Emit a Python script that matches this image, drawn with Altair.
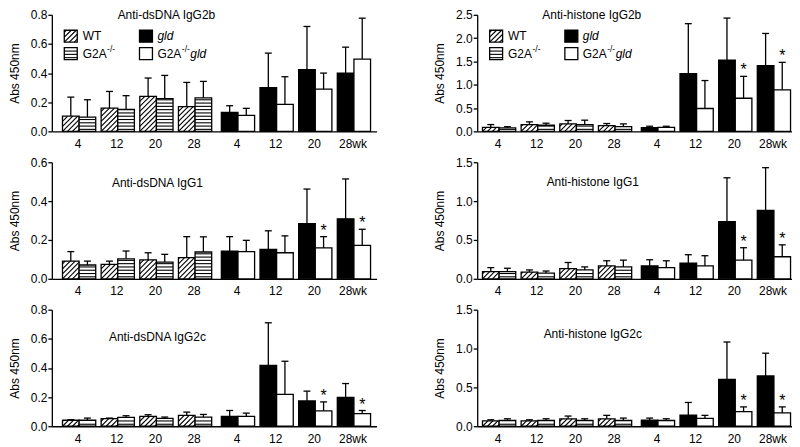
import altair as alt
import numpy as np
import pandas as pd

# ---------------- data ----------------
WEEKS = ["4", "12", "20", "28", "4", "12", "20", "28wk"]
KINDS = ["WT", "G2A"] * 4 + ["gld", "G2Agld"] * 4

dna_g2b_val = [0.105, 0.098, 0.16, 0.15, 0.24, 0.225, 0.17, 0.23, 0.13, 0.11, 0.30, 0.185, 0.423, 0.29, 0.40, 0.496]
dna_g2b_err = [0.235, 0.217, 0.274, 0.245, 0.366, 0.384, 0.336, 0.343, 0.176, 0.158, 0.537, 0.375, 0.72, 0.40, 0.578, 0.777]
his_g2b_val = [0.087, 0.073, 0.146, 0.131, 0.16, 0.146, 0.124, 0.10, 0.08, 0.087, 1.24, 0.49, 1.53, 0.71, 1.41, 0.89]
his_g2b_err = [0.146, 0.10, 0.204, 0.175, 0.233, 0.24, 0.168, 0.16, 0.11, 0.11, 2.31, 1.09, 2.43, 1.18, 2.10, 1.48]
dna_g1_val = [0.091, 0.071, 0.074, 0.103, 0.097, 0.086, 0.109, 0.138, 0.143, 0.14, 0.152, 0.134, 0.284, 0.159, 0.309, 0.172]
dna_g1_err = [0.14, 0.091, 0.091, 0.143, 0.134, 0.126, 0.217, 0.216, 0.217, 0.198, 0.247, 0.221, 0.462, 0.217, 0.514, 0.255]
his_g1_val = [0.092, 0.092, 0.087, 0.074, 0.131, 0.114, 0.166, 0.153, 0.166, 0.144, 0.20, 0.166, 0.735, 0.24, 0.88, 0.284]
his_g1_err = [0.144, 0.136, 0.114, 0.10, 0.21, 0.153, 0.232, 0.24, 0.245, 0.232, 0.31, 0.297, 1.30, 0.40, 1.43, 0.437]
dna_g2c_val = [0.041, 0.041, 0.052, 0.061, 0.068, 0.054, 0.074, 0.063, 0.068, 0.068, 0.417, 0.219, 0.174, 0.106, 0.198, 0.086]
dna_g2c_err = [0.045, 0.056, 0.056, 0.072, 0.079, 0.063, 0.097, 0.081, 0.108, 0.09, 0.71, 0.446, 0.241, 0.167, 0.293, 0.108]
his_g2c_val = [0.07, 0.074, 0.07, 0.074, 0.096, 0.074, 0.096, 0.074, 0.079, 0.074, 0.144, 0.10, 0.603, 0.188, 0.647, 0.171]
his_g2c_err = [0.083, 0.096, 0.083, 0.096, 0.131, 0.096, 0.14, 0.105, 0.105, 0.096, 0.306, 0.14, 1.084, 0.249, 0.94, 0.249]

STARS_NONE = []
STARS_LATE = [13, 15]   # G2A-/-gld at 20 and 28 wk

# ---------------- layout constants ----------------
FONT = "Liberation Sans"
STEP = 38.8        # px per group slot
BAR = 0.43         # bar width (slots)
EXTRA = 0.11       # extra gap between genotype blocks (slots)
CAP = 0.09         # half cap width (slots)
H = 117
COLS = {"L": dict(W=326, pad=10.7), "R": dict(W=316, pad=5.3)}
SW = 1.3


def hatch(kind, x0, yb, wpx, hpx, ppy):
    segs = []
    if kind == "WT":
        s = 5.0
        k0 = int(np.ceil((-hpx + 0.8) / s))
        k1 = int(np.floor((wpx - 0.8) / s))
        for k in range(k0, k1 + 1):
            c = k * s
            xa = max(0.0, c)
            xb = min(wpx, hpx + c)
            if xb - xa < 0.6:
                continue
            segs.append((x0 + xa / STEP, yb + (xa - c) / ppy, x0 + xb / STEP, yb + (xb - c) / ppy))
    elif kind == "G2A":
        s = 3.3
        yy = 2.0
        while yy < hpx - 0.7:
            segs.append((x0, yb + yy / ppy, x0 + wpx / STEP, yb + yy / ppy))
            yy += s
    return segs


def make_panel(title, ymax, ystep, vals, errs, stars, col, tpos, legend):
    W = COLS[col]["W"]
    xmin = -COLS[col]["pad"] / STEP
    xmax = xmin + W / STEP
    ppy = H / ymax
    xs = alt.Scale(domain=[xmin, xmax], nice=False, zero=False)
    ys = alt.Scale(domain=[0, ymax], nice=False, zero=True)
    yvals = [float(v) for v in np.round(np.arange(0, ymax + 1e-9, ystep), 3)]
    yaxis = alt.Axis(values=yvals, format=".1f", title="Abs 450nm", grid=False,
                     tickSize=4, labelPadding=1, titlePadding=9)
    xaxis = alt.Axis(title=None, grid=False, ticks=False, labels=False, domain=True)

    def X(f):
        return alt.X(f, type="quantitative", scale=xs, axis=xaxis)

    def Y(f):
        return alt.Y(f, type="quantitative", scale=ys, axis=yaxis)

    def px2x(px):
        return xmin + px / STEP

    def py2y(py):
        return ymax * (1 - py / H)

    rows = []
    for i, (v, e) in enumerate(zip(vals, errs)):
        g, m = divmod(i, 2)
        x0 = g + EXTRA * (g >= 4) + m * BAR
        rows.append(dict(kind=KINDS[i], x0=x0, x1=x0 + BAR, xc=x0 + BAR / 2,
                         cl=x0 + BAR / 2 - CAP, cr=x0 + BAR / 2 + CAP,
                         val=v, base=0.0, err=e, star=(i in stars)))
    bars = pd.DataFrame(rows)
    star_df = bars[bars["star"]].assign(s="*")

    rects = bars[["kind", "x0", "x1", "val", "base"]].copy()
    ltext, lsup, lital = [], [], []
    if legend:
        sw = [("WT", 12.5, 15.5, 25.5, 27.5), ("G2A", 12.5, 33, 25.5, 45),
              ("gld", 88, 15.5, 101, 27.5), ("G2Agld", 88, 33, 101, 45)]
        extra = [dict(kind=k, x0=px2x(a), x1=px2x(c), val=py2y(b), base=py2y(d))
                 for k, a, b, c, d in sw]
        rects = pd.concat([rects, pd.DataFrame(extra)], ignore_index=True)
        ltext = [("WT", 31, 21.5), ("G2A", 31, 39), ("G2A", 106, 39)]
        lsup = [("-/-", 55.5, 34.5), ("-/-", 130.5, 34.5)]
        lital = [("gld", 106, 21.5), ("gld", 139, 39)]

    segs = []
    for r in rects.itertuples():
        wpx = (r.x1 - r.x0) * STEP
        hpx = (r.val - r.base) * ppy
        segs += hatch(r.kind, r.x0, r.base, wpx, hpx, ppy)
    hdf = pd.DataFrame(segs, columns=["xa", "ya", "xb", "yb"])

    fill = alt.Fill("kind:N", scale=alt.Scale(domain=["WT", "G2A", "gld", "G2Agld"],
                                              range=["white", "white", "black", "white"]),
                    legend=None)
    layers = [
        alt.Chart(rects).mark_rect(stroke="black", strokeWidth=SW).encode(
            x=X("x0"), x2="x1", y=Y("val"), y2="base", fill=fill),
        alt.Chart(hdf).mark_rule(color="black", strokeWidth=1.1).encode(
            x=X("xa"), y=Y("ya"), x2="xb", y2="yb"),
        alt.Chart(bars).mark_rule(color="black", strokeWidth=SW).encode(
            x=X("xc"), y=Y("val"), y2="err"),
        alt.Chart(bars).mark_rule(color="black", strokeWidth=SW).encode(
            x=X("cl"), x2="cr", y=Y("err")),
    ]
    if len(star_df):
        layers.append(alt.Chart(star_df).mark_text(fontSize=16, baseline="alphabetic", dy=-1, font=FONT).encode(
            x=X("xc"), y=Y("err"), text="s:N"))
    lab = pd.DataFrame(dict(label=WEEKS,
                            c=[g + EXTRA * (g >= 4) + BAR for g in range(8)]))
    layers.append(alt.Chart(lab).mark_text(fontSize=12, baseline="middle", dx=-1, font=FONT).encode(
        x=X("c"), y=alt.value(H + 12.5), text="label:N"))
    layers.append(alt.Chart(pd.DataFrame(dict(t=[title]))).mark_text(
        fontSize=12, baseline="middle", align="center", font=FONT).encode(
        x=alt.value(tpos[0]), y=alt.value(tpos[1]), text="t:N"))
    if legend:
        for items, style in ((ltext, dict(fontSize=12)), (lsup, dict(fontSize=8.5)),
                             (lital, dict(fontSize=12, fontStyle="italic"))):
            df = pd.DataFrame([dict(t=t, x=px2x(a), y=py2y(b)) for t, a, b in items])
            layers.append(alt.Chart(df).mark_text(align="left", baseline="middle", font=FONT, **style).encode(
                x=X("x"), y=Y("y"), text="t:N"))
    return alt.layer(*layers).properties(width=W, height=H)


panels = [
    make_panel("Anti-dsDNA IgG2b", 0.8, 0.2, dna_g2b_val, dna_g2b_err, STARS_NONE, "L", (115, 0.5), True),
    make_panel("Anti-histone IgG2b", 2.5, 0.5, his_g2b_val, his_g2b_err, STARS_LATE, "R", (115, 0), True),
    make_panel("Anti-dsDNA IgG1", 0.6, 0.2, dna_g1_val, dna_g1_err, STARS_LATE, "L", (106, 20.5), False),
    make_panel("Anti-histone IgG1", 1.5, 0.5, his_g1_val, his_g1_err, STARS_LATE, "R", (116, 19.5), False),
    make_panel("Anti-dsDNA IgG2c", 0.8, 0.2, dna_g2c_val, dna_g2c_err, STARS_LATE, "L", (106, 27), False),
    make_panel("Anti-histone IgG2c", 1.5, 0.5, his_g2c_val, his_g2c_err, STARS_LATE, "R", (116, 24), False),
]

chart = alt.concat(*panels, columns=2, spacing={"row": 31, "column": 101},
                   bounds="flush", align="each").properties(
    padding={"left": 0, "top": 0, "right": 0, "bottom": 0}
).configure(font=FONT).configure_view(stroke=None).configure_axis(
    labelFont=FONT, titleFont=FONT, labelFontSize=12, titleFontSize=12,
    titleFontWeight="normal", labelColor="black", titleColor="black",
    domainColor="black", tickColor="black", domainWidth=SW, tickWidth=SW,
)

chart.save("out.html", embed_options={"renderer": "svg", "actions": False})
